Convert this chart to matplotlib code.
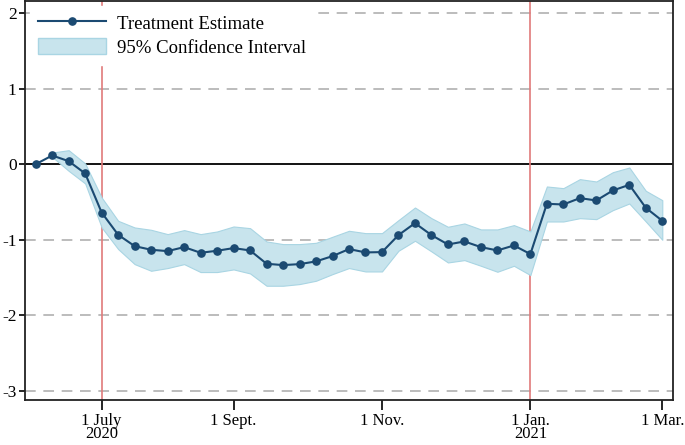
import numpy as np
import matplotlib.pyplot as plt
from matplotlib.patches import Patch
from matplotlib.lines import Line2D

plt.rcParams['font.family'] = ['Liberation Serif', 'DejaVu Serif']
plt.rcParams['axes.unicode_minus'] = False

# weekly estimates, week 0 = early June 2020
estimate = [0.0, 0.115, 0.04, -0.123, -0.64, -0.934, -1.084, -1.132, -1.15, -1.097,
            -1.172, -1.145, -1.11, -1.141, -1.317, -1.335, -1.322, -1.286, -1.216, -1.123,
            -1.167, -1.163, -0.938, -0.78, -0.938, -1.062, -1.022, -1.097, -1.141, -1.075,
            -1.189, -0.524, -0.533, -0.449, -0.48, -0.348, -0.273, -0.577, -0.749]
ci_upper = [np.nan, 0.154, 0.185, 0.009, -0.441, -0.749, -0.837, -0.868, -0.925, -0.872,
            -0.925, -0.89, -0.824, -0.846, -1.022, -1.057, -1.057, -1.04, -0.96, -0.881,
            -0.912, -0.912, -0.74, -0.573, -0.714, -0.828, -0.784, -0.863, -0.863, -0.806,
            -0.89, -0.295, -0.317, -0.198, -0.229, -0.106, -0.044, -0.352, -0.476]
ci_lower = [np.nan, 0.097, -0.088, -0.255, -0.837, -1.123, -1.322, -1.41, -1.374, -1.322,
            -1.427, -1.427, -1.392, -1.445, -1.608, -1.608, -1.586, -1.542, -1.454, -1.374,
            -1.419, -1.419, -1.145, -1.013, -1.154, -1.3, -1.269, -1.344, -1.423, -1.344,
            -1.467, -0.758, -0.758, -0.714, -0.727, -0.608, -0.52, -0.758, -1.0]
weeks = np.arange(len(estimate))

tick_weeks = [4, 12, 21, 30, 38]
tick_labels = ['1 July\n2020', '1 Sept.', '1 Nov.', '1 Jan.\n2021', '1 Mar.']
event_weeks = [4, 30]

navy = '#1b4a72'
band = '#c8e4ed'
band_edge = '#a9d5e3'

fig = plt.figure(figsize=(6.85, 4.45), dpi=100)
ax = fig.add_axes([0.0365, 0.101, 0.946, 0.897])

for yv in [2, 1, -1, -2, -3]:
    ax.axhline(yv, color='#aaaaaa', linestyle=(0, (7, 5)), linewidth=1.1, zorder=0)
ax.axhline(0, color='black', linewidth=1.3, zorder=1)
for w in event_weeks:
    ax.axvline(w, color='#e07a7a', linewidth=1.2, zorder=1)

ax.fill_between(weeks, ci_lower, ci_upper, facecolor=band, edgecolor=band_edge,
                linewidth=0.8, zorder=2)
ax.plot(weeks, estimate, color=navy, linewidth=1.5, marker='o', markersize=5.2, zorder=3)

ax.set_xlim(-0.65, 38.65)
ax.set_ylim(-3.12, 2.16)
ax.set_yticks([2, 1, 0, -1, -2, -3])
ax.set_yticklabels(['2', '1', '0', '-1', '-2', '-3'], fontsize=12.5)
ax.set_xticks(tick_weeks)
ax.set_xticklabels(tick_labels, fontsize=12, linespacing=0.82)
ax.tick_params(axis='x', length=7, width=1.2, pad=2)
ax.tick_params(axis='y', length=4, width=1.2, pad=2)
for s in ax.spines.values():
    s.set_linewidth(1.3)
    s.set_color('#222222')

handles = [Line2D([], [], color=navy, linewidth=1.5, marker='o', markersize=5.2),
           Patch(facecolor=band, edgecolor=band_edge)]
leg = ax.legend(handles, ['Treatment Estimate', '95% Confidence Interval'],
                loc='upper left', frameon=True, fontsize=13.5, handlelength=3.6,
                handleheight=0.95, handletextpad=0.6, labelspacing=0.3,
                borderpad=0.45, borderaxespad=0.25, fancybox=False)
leg.get_frame().set_edgecolor('white')
leg.get_frame().set_facecolor('white')
leg.get_frame().set_alpha(1)
leg.set_zorder(5)

fig.savefig('out.png', dpi=100)
